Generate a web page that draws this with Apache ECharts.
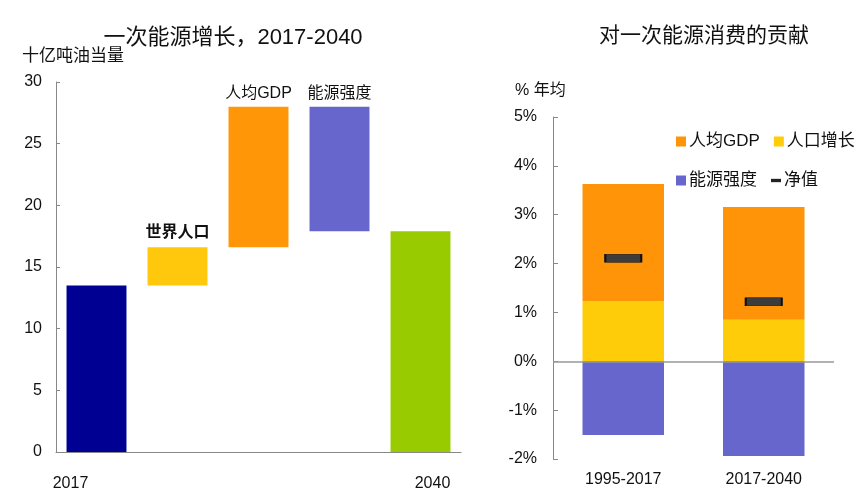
<!DOCTYPE html>
<html><head><meta charset="utf-8">
<script src="https://cdn.jsdelivr.net/npm/echarts@6/dist/echarts.min.js"></script>
<style>html,body{margin:0;padding:0;background:#fff}#c{width:866px;height:499px}</style>
</head><body><div id="c"></div>
<script>
// Left waterfall chart
var leftCategories = ['2017', '世界人口', '人均GDP', '能源强度', '2040'];
var leftLow = [0, 13.5, 16.6, 17.9, 0];
var leftHigh = [13.5, 16.6, 28.0, 28.0, 17.9];
var leftColors = ['#000093', '#FFC80C', '#FF9608', '#6666CC', '#99CC00'];
var leftTicks = [0, 5, 10, 15, 20, 25, 30];

// Right stacked chart
var rightCategories = ['1995-2017', '2017-2040'];
var popGrowth = [1.23, 0.85];
var gdpPerCapita = [2.40, 2.31];
var energyIntensity = [-1.51, -1.94];
var netValue = [2.11, 1.22];
var rightTicks = [-2, -1, 0, 1, 2, 3, 4, 5];

var FONT = '"Liberation Sans","Noto Sans CJK SC",Arial,sans-serif';
var chart = echarts.init(document.getElementById('c'), null, {renderer: 'canvas'});

var baseData = leftLow.map(function (v) { return v; });
var heightData = leftHigh.map(function (h, i) {
  var item = {value: h - leftLow[i], itemStyle: {color: leftColors[i]}};
  if (i >= 1 && i <= 3) {
    item.label = {show: true, position: 'top', distance: i === 1 ? 7 : 5,
      formatter: leftCategories[i], fontSize: 16, color: '#111', fontFamily: FONT,
      fontWeight: i === 1 ? 'bold' : 'normal'};
  }
  return item;
});

var legendIconRect = 'rect';
var netIcon = 'path://M0,0 M0,4 L12,4 L12,8 L0,8 Z M12,12';

chart.setOption({
  animation: false,
  textStyle: {fontFamily: FONT},
  title: [
    {text: '一次能源增长，2017-2040', left: 228, top: 22, textAlign: 'center',
      textStyle: {fontSize: 22, fontWeight: 'normal', color: '#111', fontFamily: FONT}},
    {text: '十亿吨油当量', left: 17, top: 43,
      textStyle: {fontSize: 17, fontWeight: 'normal', color: '#111', fontFamily: FONT}},
    {text: '对一次能源消费的贡献', left: 699, top: 21, textAlign: 'center',
      textStyle: {fontSize: 21, fontWeight: 'normal', color: '#111', fontFamily: FONT}},
    {text: '% 年均', left: 510, top: 78,
      textStyle: {fontSize: 16, fontWeight: 'normal', color: '#111', fontFamily: FONT}}
  ],
  legend: [
    {left: 671, top: 128, itemWidth: 10, itemHeight: 10, itemGap: 14,
      textStyle: {fontSize: 17, color: '#111', fontFamily: FONT, padding: [0, 0, 0, -2]},
      data: [{name: '人均GDP', icon: legendIconRect}, {name: '人口增长', icon: legendIconRect}]},
    {left: 671, top: 167, itemWidth: 10, itemHeight: 10, itemGap: 14,
      textStyle: {fontSize: 17, color: '#111', fontFamily: FONT, padding: [0, 0, 0, -2]},
      data: [{name: '能源强度', icon: legendIconRect},
             {name: '净值', icon: netIcon, itemStyle: {color: '#222', borderWidth: 0, opacity: 1}}]}
  ],
  grid: [
    {left: 56, width: 405, top: 82, bottom: 47},
    {left: 553, width: 281, top: 117, bottom: 40}
  ],
  xAxis: [
    {type: 'category', gridIndex: 0, data: leftCategories,
      axisLine: {lineStyle: {color: '#888'}}, axisTick: {show: false},
      axisLabel: {interval: 0, margin: 24, fontSize: 16, color: '#111', fontFamily: FONT,
        formatter: function (v) {
          if (v === '2017') return '{a|' + v + '}';
          if (v === '2040') return '{b|' + v + '}';
          return '';
        },
        rich: {a: {padding: [0, 52, 0, 0], fontSize: 16, color: '#111', fontFamily: FONT},
               b: {padding: [0, 0, 0, 24], fontSize: 16, color: '#111', fontFamily: FONT}}}},
    {type: 'category', gridIndex: 1, data: rightCategories,
      axisLine: {show: false, onZero: false}, axisTick: {show: false},
      axisLabel: {margin: 13, fontSize: 16, color: '#111', fontFamily: FONT}}
  ],
  yAxis: [
    {type: 'value', gridIndex: 0, min: 0, max: 30, interval: 5,
      axisLine: {show: true, lineStyle: {color: '#888'}},
      axisTick: {show: true, inside: true, length: 4, lineStyle: {color: '#888'}},
      splitLine: {show: false},
      axisLabel: {margin: 14, fontSize: 16, color: '#111', fontFamily: FONT}},
    {type: 'value', gridIndex: 1, min: -2, max: 5, interval: 1,
      axisLine: {show: true, lineStyle: {color: '#888'}},
      axisTick: {show: true, inside: true, length: 5, lineStyle: {color: '#888'}},
      splitLine: {show: false},
      axisLabel: {margin: 16, fontSize: 16, color: '#111', fontFamily: FONT,
        formatter: function (v) { return v + '%'; }}}
  ],
  series: [
    {type: 'bar', name: 'base', xAxisIndex: 0, yAxisIndex: 0, stack: 'w', barWidth: '74%',
      itemStyle: {color: 'transparent'}, data: baseData, silent: true},
    {type: 'bar', name: 'waterfall', xAxisIndex: 0, yAxisIndex: 0, stack: 'w', barWidth: '74%',
      data: heightData},
    {type: 'bar', name: '人口增长', xAxisIndex: 1, yAxisIndex: 1, stack: 'r', barWidth: '58%',
      itemStyle: {color: '#FFCC0A'}, data: popGrowth,
      markLine: {silent: true, symbol: 'none', label: {show: false},
        lineStyle: {color: '#999', type: 'solid', width: 1.5}, data: [{yAxis: 0}]}},
    {type: 'bar', name: '人均GDP', xAxisIndex: 1, yAxisIndex: 1, stack: 'r', barWidth: '58%',
      itemStyle: {color: '#FF9408'}, data: gdpPerCapita},
    {type: 'bar', name: '能源强度', xAxisIndex: 1, yAxisIndex: 1, stack: 'r', barWidth: '58%',
      itemStyle: {color: '#6666CC'}, data: energyIntensity},
    {type: 'scatter', name: '净值', xAxisIndex: 1, yAxisIndex: 1, symbol: 'rect',
      symbolSize: [36, 8], z: 5,
      itemStyle: {color: '#3C3C3C', borderColor: '#111', borderWidth: 1, opacity: 1}, data: netValue}
  ]
});
</script>
</body></html>
